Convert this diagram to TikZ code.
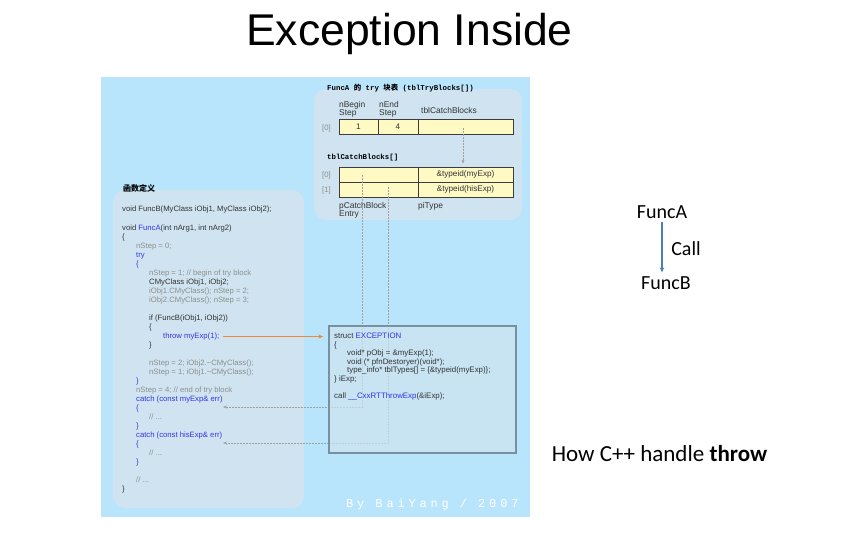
\documentclass[tikz,border=0pt]{standalone}
\usepackage{fontspec}
\setmainfont{Liberation Sans}
\setmonofont{Liberation Mono}
\newfontfamily\cjkf{Noto Sans CJK SC}
\newfontfamily\calf{Carlito}
\newfontfamily\wmf{Liberation Mono}[LetterSpace=32]
\usetikzlibrary{arrows.meta}
\definecolor{bgblue}{HTML}{B8E5FC}
\definecolor{panel}{HTML}{CFE4F0}
\definecolor{cellyel}{HTML}{FFF9C4}
\definecolor{celledge}{HTML}{3C3C3C}
\definecolor{cdark}{HTML}{333333}
\definecolor{cgray}{HTML}{8E8E8E}
\definecolor{cblue}{HTML}{3535E8}
\definecolor{orangeln}{HTML}{F0883A}
\definecolor{dashg}{HTML}{A0A0A0}
\definecolor{excedge}{HTML}{7890A0}
\definecolor{arrowblue}{HTML}{4A7EBB}
\tikzset{
  code/.style={anchor=base west, inner sep=0pt, font=\fontsize{7.7}{8}\selectfont, text=cdark},
  cg/.style={code, text=cgray},
  cb/.style={code, text=cblue},
  ex/.style={anchor=base west, inner sep=0pt, font=\fontsize{7.9}{8}\selectfont, text=cdark},
  cell/.style={draw=celledge, fill=cellyel, line width=0.8pt, minimum height=15pt, inner sep=0pt, font=\fontsize{8.2}{9}\selectfont, text=cdark},
  lab/.style={inner sep=0pt, font=\fontsize{8.4}{8.6}\selectfont, text=cdark, align=left},
  idx/.style={anchor=base west, inner sep=0pt, font=\fontsize{7.8}{8}\selectfont, text=cgray},
  head/.style={anchor=base west, inner sep=0pt, font=\fontsize{7.4}{8}\ttfamily\bfseries, text=black},
  link/.style={dashg, dash pattern=on 2pt off 1pt, line width=0.6pt},
  panelbox/.style={fill=panel, rounded corners=12pt},
  calt/.style={inner sep=0pt, font=\calf\fontsize{20}{24}\selectfont, text=black},
}
\begin{document}
\begin{tikzpicture}[x=1pt,y=-1pt]
\useasboundingbox[fill=white] (0,0) rectangle (857,538);
% title
\node[anchor=base, inner sep=0pt, font=\fontsize{44.5}{50}\selectfont] (title) at (409.5,45) {Exception Inside};
% background
\fill[bgblue] (101,77) rectangle (530,517);
\fill[panelbox] (314,89) rectangle (522,220);
\fill[panelbox] (113,190) rectangle (304,508);
% headings
\node[head] (h1) at (327,90) {FuncA {\cjkf\bfseries 的} try {\cjkf\bfseries 块表} (tblTryBlocks[])};
\node[head] (h2) at (327,159.5) {tblCatchBlocks[]};
\node[head] (h3) at (123,191) {{\cjkf\bfseries\fontsize{8}{9}\selectfont 函数定义}};
% try table
\node[lab, anchor=north west] (lb1) at (339,101) {nBegin\\Step};
\node[lab, anchor=north west] (lb2) at (379,101) {nEnd\\Step};
\node[lab, anchor=base west] (lb3) at (421,113) {tblCatchBlocks};
\node[idx] (i0) at (322,130) {[0]};
\node[cell, minimum width=39pt] (t00) at (358.5,126.5) {1};
\node[cell, minimum width=40pt] (t01) at (398,126.5) {4};
\node[cell, minimum width=95pt] (t02) at (465.5,126.5) {};
% catch table
\node[idx] (i1) at (322,177.5) {[0]};
\node[idx] (i2) at (322,192.5) {[1]};
\node[cell, minimum width=79pt] (cb00) at (378.5,174.5) {};
\node[cell, minimum width=95pt] (cb01) at (465.5,174.5) {\&typeid(myExp)};
\node[cell, minimum width=79pt] (cb10) at (378.5,189.5) {};
\node[cell, minimum width=95pt] (cb11) at (465.5,189.5) {\&typeid(hisExp)};
\node[lab, anchor=north west] (lb4) at (339,202) {pCatchBlock\\Entry};
\node[lab, anchor=base west] (lb5) at (418,208.5) {piType};
% code
\node[code] (c1) at (122,211.5) {void FuncB(MyClass iObj1, MyClass iObj2);};
\node[code] (c2) at (122,230.5) {void \textcolor{cblue}{FuncA}(int nArg1, int nArg2)};
\node[code] (c3) at (122,239.5) {\{};
\node[cg] (c4) at (136,248.5) {nStep = 0;};
\node[cb] (c5) at (136,257.5) {try};
\node[cb] (c6) at (136,266.5) {\{};
\node[cg] (c7) at (149,275.5) {nStep = 1; // begin of try block};
\node[code] (c8) at (149,284.5) {CMyClass iObj1, iObj2;};
\node[cg] (c9) at (149,293.5) {iObj1.CMyClass(); nStep = 2;};
\node[cg] (c10) at (149,302.5) {iObj2.CMyClass(); nStep = 3;};
\node[code] (c11) at (149,320.5) {if (FuncB(iObj1, iObj2))};
\node[code] (c12) at (149,329.5) {\{};
\node[cb] (throw) at (163,338.5) {throw myExp(1);};
\node[code] (c14) at (149,347.5) {\}};
\node[cg] (c15) at (149,365.5) {nStep = 2; iObj2.\textasciitilde CMyClass();};
\node[cg] (c16) at (149,374.5) {nStep = 1; iObj1.\textasciitilde CMyClass();};
\node[cb] (c17) at (136,383.5) {\}};
\node[cg] (c18) at (136,392.5) {nStep = 4; // end of try block};
\node[cb] (c19) at (136,401.5) {catch (const myExp\& err)};
\node[cb] (c20) at (136,410.5) {\{};
\node[cg] (c21) at (149,419.5) {// ...};
\node[cb] (c22) at (136,428.5) {\}};
\node[cb] (c23) at (136,437.5) {catch (const hisExp\& err)};
\node[cb] (c24) at (136,446.5) {\{};
\node[cg] (c25) at (149,455.5) {// ...};
\node[cb] (c26) at (136,464.5) {\}};
\node[cg] (c27) at (136,482.5) {// ...};
\node[code] (c28) at (122,491.5) {\}};
% links (drawn under the exception box)
\coordinate (d0s) at (463,128);
\coordinate (d1s) at (362,175);
\coordinate (d1e) at (223,407);
\coordinate (d2s) at (388,187);
\coordinate (d2e) at (223,443);
\draw[link, -{Stealth[length=4pt,width=3pt]}, shorten >=3pt] (d0s) -- (d0s |- cb01.north);
\draw[link, -{Stealth[length=4pt,width=3pt]}] (d1s) |- (d1e);
\draw[link, -{Stealth[length=4pt,width=3pt]}] (d2s) |- (d2e);
% exception box
\node[draw=excedge, fill=panel, fill opacity=0.7, line width=1.5pt, minimum width=187pt, minimum height=127pt, inner sep=0pt] (exc) at (422.5,389.5) {};
\node[ex] (e1) at (334,338.5) {struct \textcolor{cblue}{EXCEPTION}};
\node[ex] (e2) at (334,347) {\{};
\node[ex] (e3) at (347,355.5) {void* pObj = \&myExp(1);};
\node[ex] (e4) at (347,364) {void (* pfnDestoryer)(void*);};
\node[ex] (e5) at (347,372.5) {type\_info* tblTypes[] = \{\&typeid(myExp)\};};
\node[ex] (e6) at (334,381) {\} iExp;};
\node[ex] (e7) at (334,398) {call \textcolor{cblue}{\_\_CxxRTThrowExp}(\&iExp);};
\draw[orangeln, line width=0.8pt, -{Stealth[length=5pt,width=4pt]}, shorten >=5pt] ([xshift=4pt]throw.east) -- (throw.east -| exc.west);
% watermark
\node[anchor=base west, inner sep=0pt, font=\wmf\fontsize{12}{14}\selectfont, text=white] (wm) at (346,507) {By BaiYang / 2007};
% right side
\node[calt] (fa) at (662,212) {FuncA};
\node[calt] (fb) at (666,283) {FuncB};
\draw[arrowblue, line width=1.1pt, -{Stealth[length=5pt,width=4.5pt]}] ([yshift=-3pt]fa.south) -- ([yshift=4pt]fa.south |- fb.north);
\node[calt] (call) at (686,249) {Call};
\node[calt, font=\calf\fontsize{23}{26}\selectfont] (how) at (659.5,453.5) {How C++ handle \textbf{throw}};
\end{tikzpicture}
\end{document}
